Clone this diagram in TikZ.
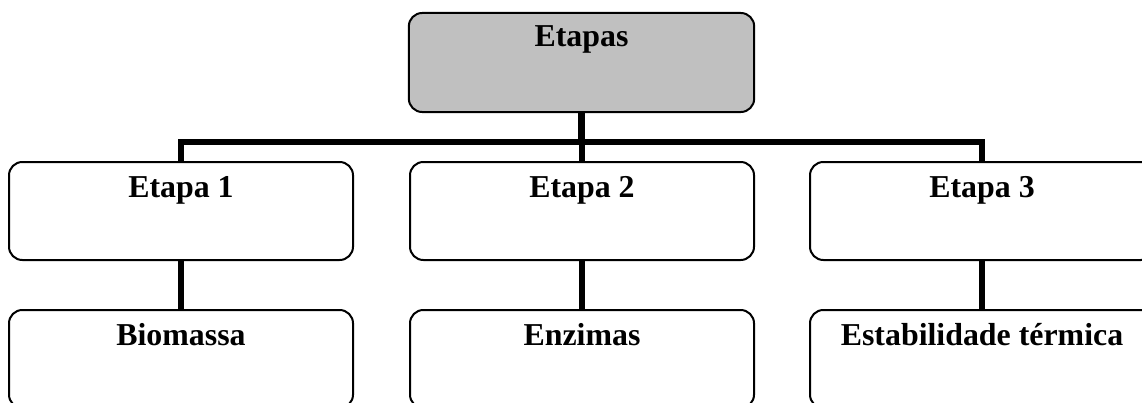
\documentclass[tikz,border=0pt]{standalone}
\usepackage{fontspec}
\setmainfont{Liberation Serif}
\begin{document}
\begin{tikzpicture}[x=0.75pt,y=-0.75pt,
  stagebox/.style={draw=black, line width=1.5pt, rounded corners=10pt,
    fill=white, inner sep=0pt, minimum width=258pt,
    text height=26.25pt, text depth=47.25pt,
    font=\fontsize{23.9}{28}\selectfont\bfseries},
  headbox/.style={stagebox, fill=headgray, minimum width=259pt,
    text height=25.5pt, text depth=48.75pt},
  bar/.style={line width=4.8pt, line join=miter}]
\definecolor{headgray}{HTML}{C0C0C0}
\useasboundingbox (0,0) rectangle (1142,403);
\clip (0,0) rectangle (1142,403);

% header
\node[headbox] (top) at (581.5,62.5) {Etapas};

% first row
\node[stagebox] (e1) at (181,211) {Etapa 1};
\node[stagebox] (e2) at (582,211) {Etapa 2};
\node[stagebox] (e3) at (982,211) {Etapa 3};

% second row
\node[stagebox] (b1) at (181,359) {Biomassa};
\node[stagebox] (b2) at (582,359) {Enzimas};
\node[stagebox] (b3) at (982,359) {Estabilidade térmica};

% branching bus
\coordinate (bus) at (582,142);
\draw[bar] (top.south) -- (top.south |- bus);
\draw[bar] (e1.north) -- (e1.north |- bus) -- (e3.north |- bus) -- (e3.north);
\draw[bar] (e2.north) -- (e2.north |- bus);

% vertical links
\draw[bar] (e1.south) -- (b1.north);
\draw[bar] (e2.south) -- (b2.north);
\draw[bar] (e3.south) -- (b3.north);
\end{tikzpicture}
\end{document}
